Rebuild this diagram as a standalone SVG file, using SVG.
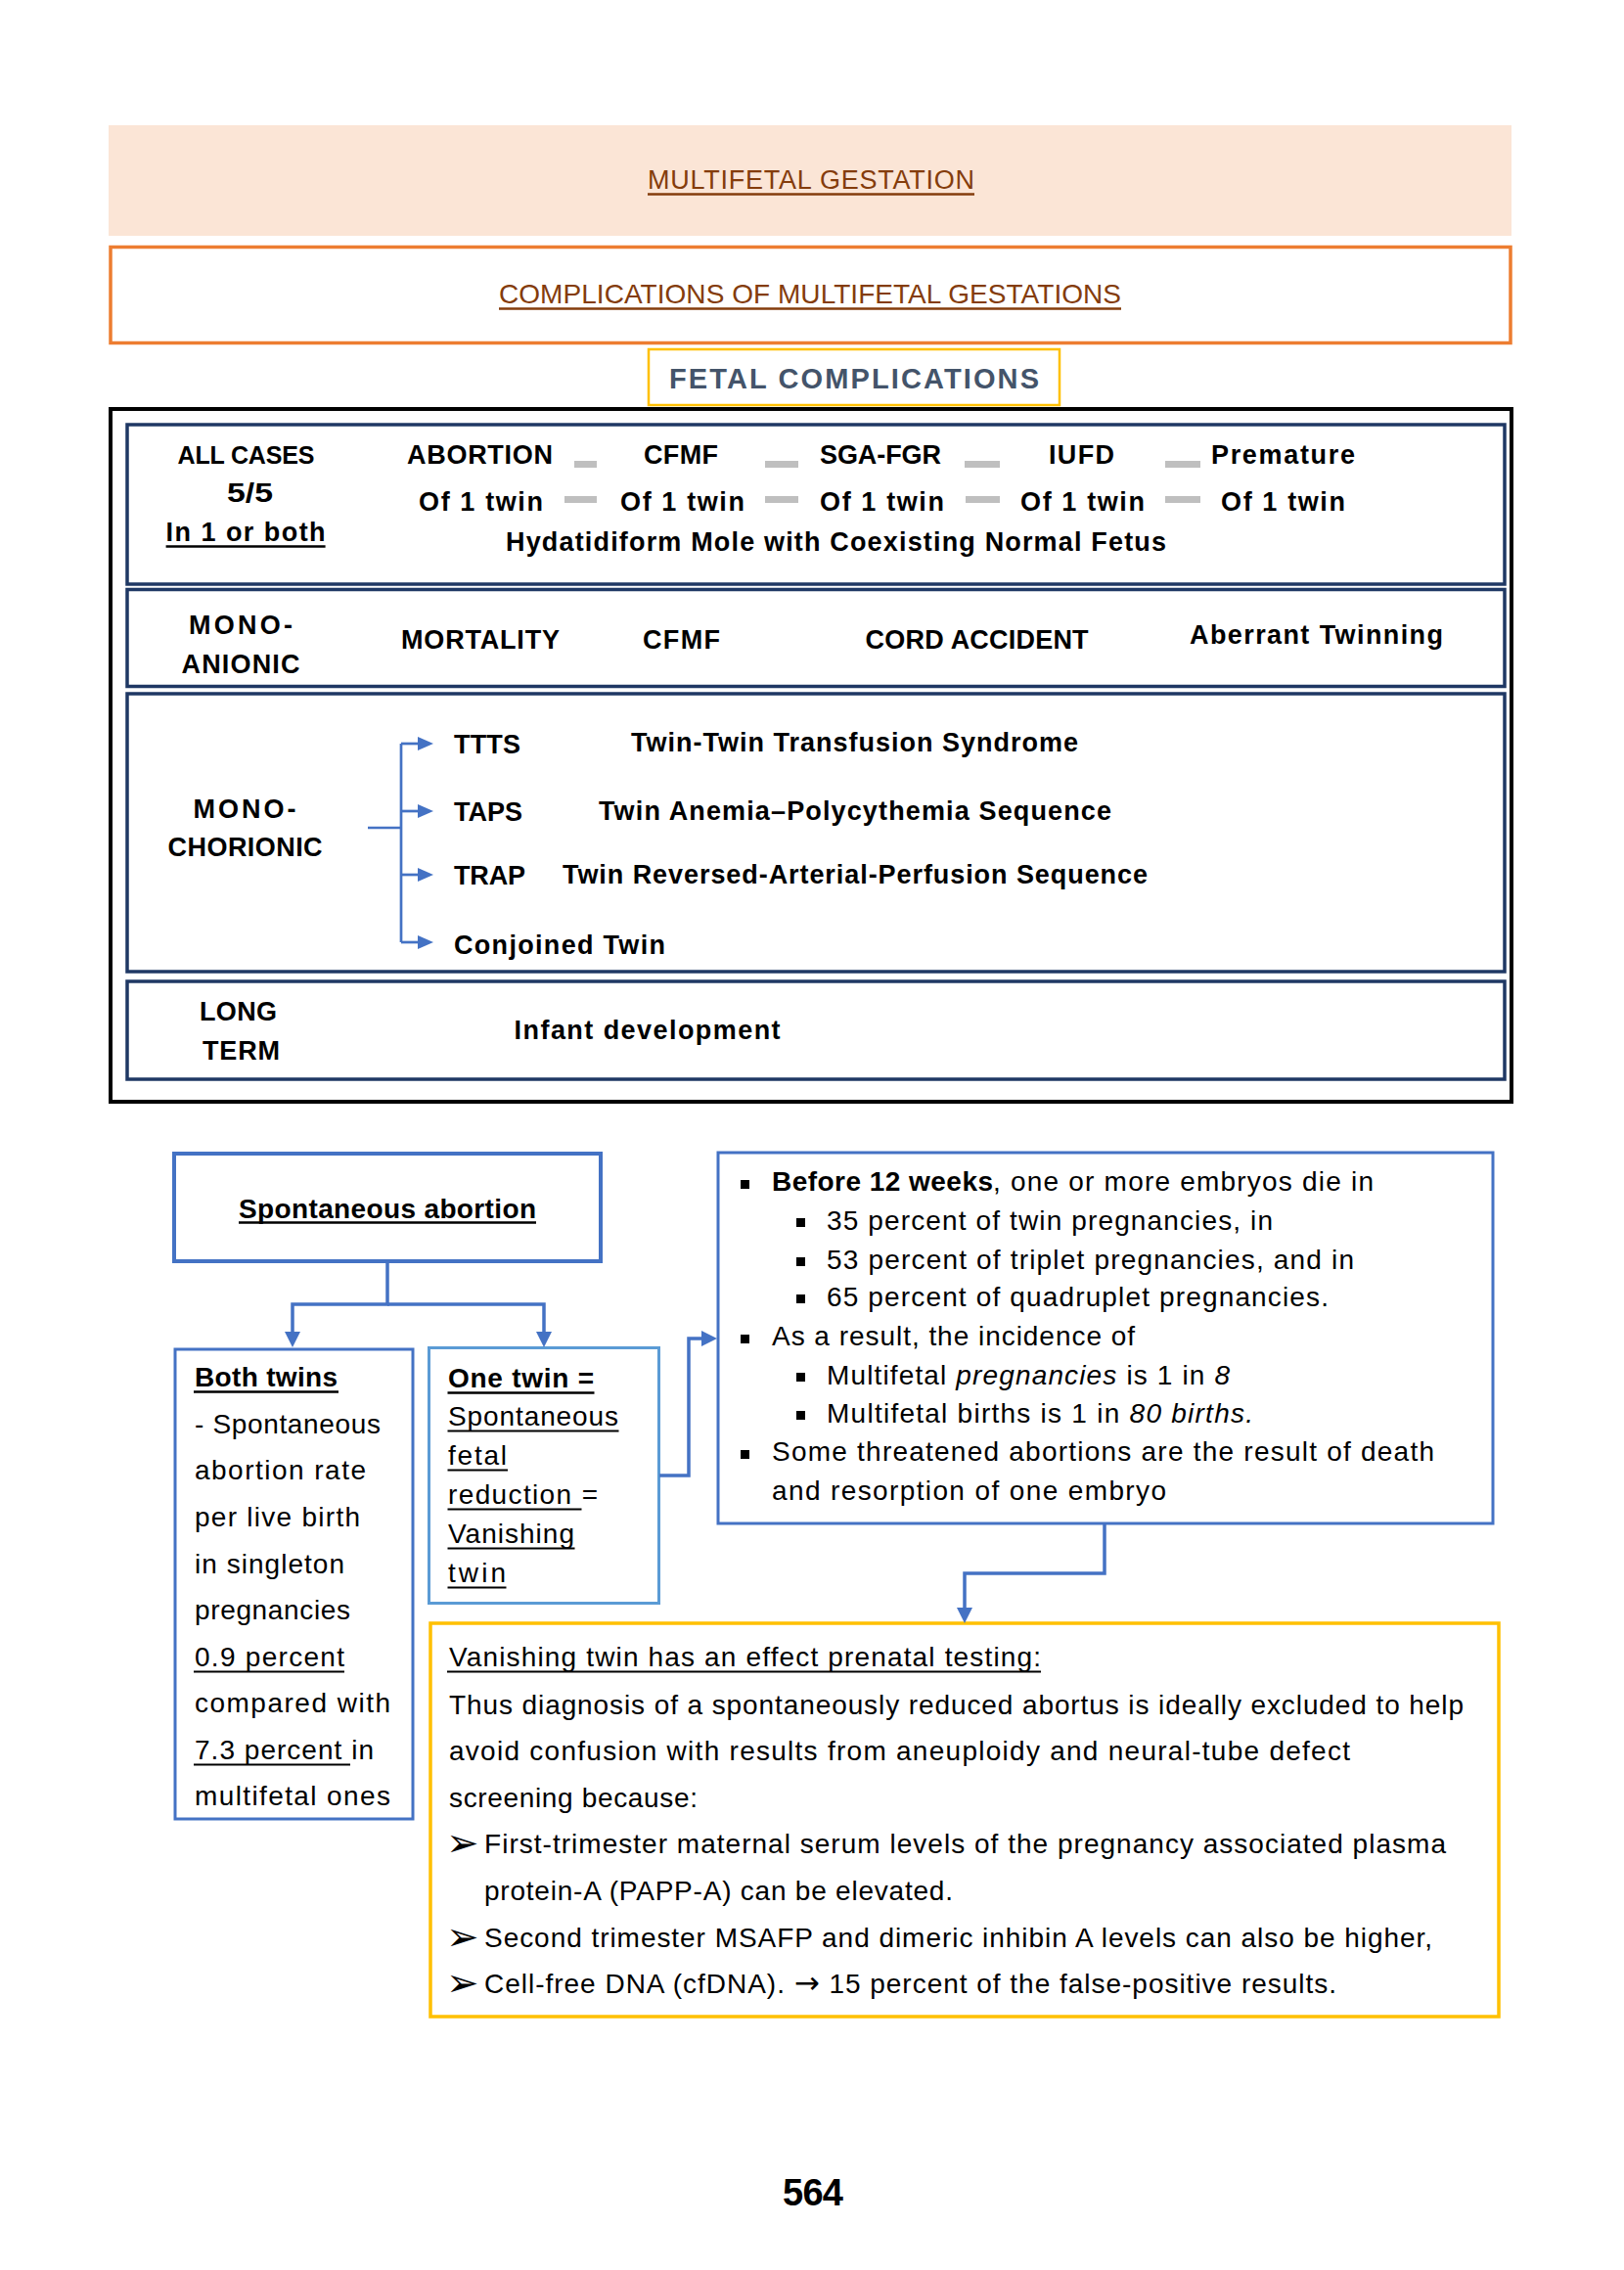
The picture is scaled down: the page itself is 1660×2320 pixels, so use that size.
<svg xmlns="http://www.w3.org/2000/svg" width="1660" height="2320" viewBox="0 0 1660 2320">
<style>
.t{font-family:"Liberation Sans",Arial,sans-serif;font-size:27px;fill:#000}
.r{font-size:28px}
.b{font-weight:bold}
.i{font-style:italic}
.sym{font-family:"DejaVu Sans",sans-serif}
.nav{fill:none;stroke:#1F3864;stroke-width:3.5}
.blue{fill:none;stroke:#4472C4;stroke-width:3}
.dash{fill:#BFBFBF}
.sq{fill:#000}
.ul{stroke:#000;stroke-width:2.2}
.ulb{stroke:#843C0C;stroke-width:2.6}
.con{fill:none;stroke:#4472C4;stroke-width:3.5}
.con2{fill:none;stroke:#4472C4;stroke-width:2.7}
</style>
<defs>
<marker id="ah" markerUnits="userSpaceOnUse" viewBox="0 0 16 16" markerWidth="16" markerHeight="16" refX="6" refY="8" orient="auto">
<path d="M0,0 L16,8 L0,16 z" fill="#4472C4"/>
</marker>
<marker id="ahs" markerUnits="userSpaceOnUse" viewBox="0 0 16 14" markerWidth="16" markerHeight="14" refX="6" refY="7" orient="auto">
<path d="M0,0 L16,7 L0,14 z" fill="#4472C4"/>
</marker>
</defs>
<rect width="1660" height="2320" fill="#fff"/>

<g id="title">
<rect x="111" y="128" width="1434" height="113" fill="#FBE5D6"/>
<text class="t" x="662" y="193" textLength="334" style="fill:#843C0C">MULTIFETAL GESTATION</text>
<line class="ulb" x1="662" y1="198.5" x2="996" y2="198.5"/>
</g>

<g id="complications">
<rect x="113" y="252.5" width="1431" height="98" fill="none" stroke="#ED7D31" stroke-width="3.5"/>
<text class="t" x="510" y="310" textLength="636" style="fill:#843C0C;font-size:28px">COMPLICATIONS OF MULTIFETAL GESTATIONS</text>
<line class="ulb" x1="510" y1="315.5" x2="1146" y2="315.5"/>
</g>

<g id="fetal-complications">
<rect x="663" y="357" width="420" height="57" fill="none" stroke="#FFC000" stroke-width="2.5"/>
<text class="t b" x="684" y="397" textLength="378" style="fill:#44546A;font-size:29px">FETAL COMPLICATIONS</text>
</g>

<g id="fetal-table">
<rect x="113" y="418" width="1432" height="708" fill="none" stroke="#000" stroke-width="4"/>
</g>

<g id="all-cases">
<rect class="nav" x="130" y="434" width="1408" height="163"/>
<text class="t b" x="181.5" y="474" textLength="140" style="font-size:25px">ALL CASES</text>
<text class="t b" x="232" y="513" textLength="47" lengthAdjust="spacingAndGlyphs">5/5</text>
<text class="t b" x="169.6" y="553" textLength="163">In 1 or both</text>
<line class="ul" x1="169.6" y1="558.5" x2="332.6" y2="558.5" style="stroke-width:2.6"/>
<text class="t b" x="416" y="474" textLength="149">ABORTION</text>
<text class="t b" x="658" y="474" textLength="76">CFMF</text>
<text class="t b" x="838" y="474" textLength="124">SGA-FGR</text>
<text class="t b" x="1072" y="474" textLength="67">IUFD</text>
<text class="t b" x="1238" y="474" textLength="147">Premature</text>
<rect class="dash" x="587" y="471" width="23" height="7"/>
<rect class="dash" x="782" y="471" width="34" height="7"/>
<rect class="dash" x="986" y="471" width="36" height="7"/>
<rect class="dash" x="1191" y="471" width="36" height="7"/>
<text class="t b" x="428" y="522" textLength="127">Of 1 twin</text>
<text class="t b" x="634" y="522" textLength="127">Of 1 twin</text>
<text class="t b" x="838" y="522" textLength="127">Of 1 twin</text>
<text class="t b" x="1043" y="522" textLength="127">Of 1 twin</text>
<text class="t b" x="1248" y="522" textLength="127">Of 1 twin</text>
<rect class="dash" x="577" y="507" width="33" height="7"/>
<rect class="dash" x="782" y="507" width="34" height="7"/>
<rect class="dash" x="987" y="507" width="35" height="7"/>
<rect class="dash" x="1191" y="507" width="36" height="7"/>
<text class="t b" x="517" y="563" textLength="675">Hydatidiform Mole with Coexisting Normal Fetus</text>
</g>

<g id="mono-anionic">
<rect class="nav" x="130" y="602.5" width="1408" height="99"/>
<text class="t b" x="193" y="648" textLength="106">MONO-</text>
<text class="t b" x="185.5" y="688" textLength="121">ANIONIC</text>
<text class="t b" x="410" y="663" textLength="162">MORTALITY</text>
<text class="t b" x="657" y="663" textLength="79">CFMF</text>
<text class="t b" x="884.6" y="663" textLength="228">CORD ACCIDENT</text>
<text class="t b" x="1216" y="658" textLength="259">Aberrant Twinning</text>
</g>

<g id="mono-chorionic">
<rect class="nav" x="130" y="709" width="1408" height="284"/>
<text class="t b" x="197.5" y="836" textLength="105">MONO-</text>
<text class="t b" x="171.6" y="875" textLength="158">CHORIONIC</text>
<text class="t b" x="464" y="770" textLength="68">TTTS</text>
<text class="t b" x="645" y="768" textLength="457">Twin-Twin Transfusion Syndrome</text>
<text class="t b" x="464" y="839" textLength="70">TAPS</text>
<text class="t b" x="612" y="838" textLength="524">Twin Anemia–Polycythemia Sequence</text>
<text class="t b" x="464" y="904" textLength="73">TRAP</text>
<text class="t b" x="575" y="903" textLength="598">Twin Reversed-Arterial-Perfusion Sequence</text>
<text class="t b" x="464" y="975" textLength="216">Conjoined Twin</text>
</g>

<g id="long-term">
<rect class="nav" x="130" y="1003" width="1408" height="100"/>
<text class="t b" x="204" y="1043" textLength="79">LONG</text>
<text class="t b" x="207" y="1083" textLength="79">TERM</text>
<text class="t b" x="525.6" y="1062" textLength="272">Infant development</text>
</g>

<g id="spontaneous-abortion">
<rect x="178" y="1179" width="436" height="110" fill="none" stroke="#4472C4" stroke-width="4"/>
<text class="t b" x="244" y="1245" textLength="304" style="font-size:28px">Spontaneous abortion</text>
<line class="ul" x1="244" y1="1249.5" x2="548" y2="1249.5" style="stroke-width:2.6"/>
</g>

<g id="both-twins">
<rect class="blue" x="179" y="1379" width="243" height="480"/>
<text class="t r b" x="199" y="1417" textLength="146">Both twins</text>
<line class="ul" x1="198" y1="1422.5" x2="346" y2="1422.5" style="stroke-width:2.6"/>
<text class="t r" x="199" y="1465" textLength="190">- Spontaneous</text>
<text class="t r" x="199" y="1512" textLength="175">abortion rate</text>
<text class="t r" x="199" y="1560" textLength="169">per live birth</text>
<text class="t r" x="199" y="1608" textLength="153">in singleton</text>
<text class="t r" x="199" y="1655" textLength="159">pregnancies</text>
<text class="t r" x="199" y="1703" textLength="153">0.9 percent</text>
<line class="ul" x1="198" y1="1708.5" x2="352" y2="1708.5"/>
<text class="t r" x="199" y="1750" textLength="200">compared with</text>
<text class="t r" x="199" y="1798" textLength="183">7.3 percent in</text>
<line class="ul" x1="198" y1="1803.5" x2="358" y2="1803.5"/>
<text class="t r" x="199" y="1845" textLength="200">multifetal ones</text>
</g>

<g id="one-twin">
<rect x="438.5" y="1377.5" width="235" height="261" fill="none" stroke="#5B9BD5" stroke-width="3"/>
<text class="t r b" x="458" y="1418" textLength="149">One twin =</text>
<line class="ul" x1="457.5" y1="1423.5" x2="607.5" y2="1423.5" style="stroke-width:2.6"/>
<text class="t r" x="458" y="1457" textLength="174">Spontaneous</text>
<line class="ul" x1="457.5" y1="1462.5" x2="632.5" y2="1462.5"/>
<text class="t r" x="458" y="1497" textLength="60">fetal</text>
<line class="ul" x1="457.5" y1="1502.5" x2="519" y2="1502.5"/>
<text class="t r" x="458" y="1537" textLength="153">reduction =</text>
<line class="ul" x1="457.5" y1="1542.5" x2="594.5" y2="1542.5"/>
<text class="t r" x="458" y="1577" textLength="129">Vanishing</text>
<line class="ul" x1="457.5" y1="1582.5" x2="587.5" y2="1582.5"/>
<text class="t r" x="458" y="1617" textLength="59">twin</text>
<line class="ul" x1="457.5" y1="1622.5" x2="517.5" y2="1622.5"/>
</g>

<g id="before-12-weeks">
<rect class="blue" x="734" y="1178" width="792" height="379"/>
<rect class="sq" x="757" y="1206" width="9" height="9"/>
<text class="t r b" x="789" y="1217" textLength="226">Before 12 weeks</text>
<text class="t r" x="1015" y="1217" textLength="389">, one or more embryos die in</text>
<rect class="sq" x="814" y="1245" width="9" height="9"/>
<text class="t r" x="845" y="1257" textLength="456">35 percent of twin pregnancies, in</text>
<rect class="sq" x="814" y="1285" width="9" height="9"/>
<text class="t r" x="845" y="1297" textLength="539">53 percent of triplet pregnancies, and in</text>
<rect class="sq" x="814" y="1323" width="9" height="9"/>
<text class="t r" x="845" y="1335" textLength="513">65 percent of quadruplet pregnancies.</text>
<rect class="sq" x="757" y="1364" width="9" height="9"/>
<text class="t r" x="789" y="1375" textLength="371">As a result, the incidence of</text>
<rect class="sq" x="814" y="1403" width="9" height="9"/>
<text class="t r" x="845" y="1415" textLength="412">Multifetal <tspan class="i">pregnancies</tspan> is 1 in <tspan class="i">8</tspan></text>
<rect class="sq" x="814" y="1442" width="9" height="9"/>
<text class="t r" x="845" y="1454" textLength="436">Multifetal births is 1 in <tspan class="i">80 births.</tspan></text>
<rect class="sq" x="757" y="1482" width="9" height="9"/>
<text class="t r" x="789" y="1493" textLength="677">Some threatened abortions are the result of death</text>
<text class="t r" x="789" y="1533" textLength="403">and resorption of one embryo</text>
</g>

<g id="vanishing-twin">
<rect x="440" y="1659" width="1092" height="402" fill="none" stroke="#FFC000" stroke-width="3.5"/>
<text class="t r" x="459" y="1703" textLength="605">Vanishing twin has an effect prenatal testing:</text>
<line class="ul" x1="457" y1="1708.5" x2="1064" y2="1708.5"/>
<text class="t r" x="459" y="1752" textLength="1037">Thus diagnosis of a spontaneously reduced abortus is ideally excluded to help</text>
<text class="t r" x="459" y="1799" textLength="921">avoid confusion with results from aneuploidy and neural-tube defect</text>
<text class="t r" x="459" y="1847" textLength="254">screening because:</text>
<text class="sym" x="456" y="1897" style="font-size:40px;fill:#000">➢</text>
<text class="t r" x="495" y="1894" textLength="983">First-trimester maternal serum levels of the pregnancy associated plasma</text>
<text class="t r" x="495" y="1942" textLength="479">protein-A (PAPP-A) can be elevated.</text>
<text class="sym" x="456" y="1993" style="font-size:40px;fill:#000">➢</text>
<text class="t r" x="495" y="1990" textLength="969">Second trimester MSAFP and dimeric inhibin A levels can also be higher,</text>
<text class="sym" x="456" y="2040" style="font-size:40px;fill:#000">➢</text>
<text class="t r" x="495" y="2037" textLength="871">Cell-free DNA (cfDNA). <tspan class="sym" style="font-size:31px">→</tspan> 15 percent of the false-positive results.</text>
</g>

<g id="page-number">
<text class="t b" x="800" y="2254" textLength="62" style="font-size:38px">564</text>
</g>

<g id="connectors">
<path class="con2" d="M376 846 H410"/>
<path class="con2" d="M410 760 V963"/>
<path class="con2" d="M410 760 H433" marker-end="url(#ahs)"/>
<path class="con2" d="M410 829 H433" marker-end="url(#ahs)"/>
<path class="con2" d="M410 894 H433" marker-end="url(#ahs)"/>
<path class="con2" d="M410 963 H433" marker-end="url(#ahs)"/>
<path class="con" d="M396 1291 V1333 H299 V1367" marker-end="url(#ah)"/>
<path class="con" d="M396 1333 H556 V1367" marker-end="url(#ah)"/>
<path class="con" d="M674 1508 H704 V1368 H723" marker-end="url(#ah)"/>
<path class="con" d="M1129 1558 V1608 H986 V1649" marker-end="url(#ah)"/>
</g>
</svg>
